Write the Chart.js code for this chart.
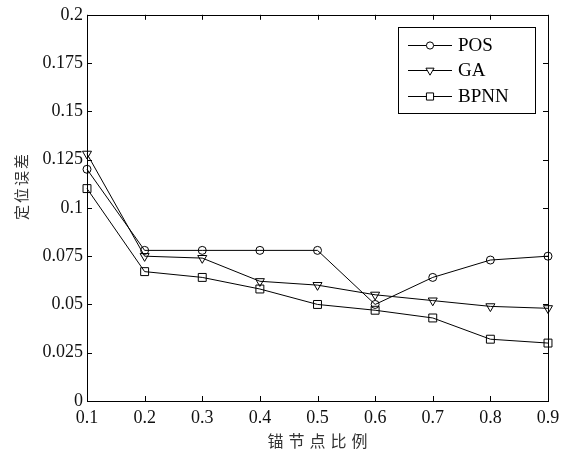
<!DOCTYPE html>
<html>
<head>
<meta charset="utf-8">
<script src="https://cdn.jsdelivr.net/npm/chart.js@4.4.0/dist/chart.umd.min.js"></script>
<style>
html,body{margin:0;padding:0;background:#fff;}
#wrap{width:574px;height:458px;}
</style>
</head>
<body>
<div id="wrap"><canvas id="c" width="574" height="458"></canvas></div>
<script>
const xValues = [0.1, 0.2, 0.3, 0.4, 0.5, 0.6, 0.7, 0.8, 0.9];
const xTickLabels = ["0.1","0.2","0.3","0.4","0.5","0.6","0.7","0.8","0.9"];
const yTickValues = [0, 0.025, 0.05, 0.075, 0.1, 0.125, 0.15, 0.175, 0.2];
const yTickLabels = ["0","0.025","0.05","0.075","0.1","0.125","0.15","0.175","0.2"];
const posValues  = [0.120, 0.078, 0.078, 0.078, 0.078, 0.050, 0.064, 0.073, 0.075];
const gaValues   = [0.128, 0.075, 0.074, 0.062, 0.060, 0.055, 0.052, 0.049, 0.048];
const bpnnValues = [0.110, 0.067, 0.064, 0.058, 0.050, 0.047, 0.043, 0.032, 0.030];
const seriesNames = ["POS", "GA", "BPNN"];
const xTitle = "锚节点比例";
const yTitle = "定位误差";

const serif = "'Liberation Serif', 'Times New Roman', serif";
const cjk = "'Noto Sans CJK SC', sans-serif";

function pts(vals){ return xValues.map((x,i)=>({x:x, y:vals[i]})); }

const styles = [
  {pointStyle:'circle', radius:4, rotation:0},
  {pointStyle:'triangle', radius:5.2, rotation:180},
  {pointStyle:'rect', radius:5.6, rotation:0}
];

const frameTicks = {
  id:'frameTicks',
  afterDraw(chart){
    const ctx = chart.ctx, a = chart.chartArea;
    const xs = chart.scales.x, ys = chart.scales.y;
    ctx.save();
    ctx.strokeStyle = '#000';
    ctx.lineWidth = 1;
    ctx.beginPath();
    xValues.forEach(v=>{
      const px = Math.round(xs.getPixelForValue(v))+0.5;
      ctx.moveTo(px, a.bottom); ctx.lineTo(px, a.bottom-5);
      ctx.moveTo(px, a.top); ctx.lineTo(px, a.top+5);
    });
    yTickValues.forEach(v=>{
      const py = Math.round(ys.getPixelForValue(v))+0.5;
      ctx.moveTo(a.left, py); ctx.lineTo(a.left+5, py);
      ctx.moveTo(a.right, py); ctx.lineTo(a.right-5, py);
    });
    ctx.stroke();
    ctx.strokeRect(Math.round(a.left)+0.5, Math.round(a.top)+0.5, Math.round(a.right-a.left), Math.round(a.bottom-a.top));
    // legend
    const bx = 398.5, by = 27.5, bw = 137, bh = 86;
    ctx.fillStyle = '#fff';
    ctx.fillRect(bx, by, bw, bh);
    ctx.strokeRect(bx, by, bw, bh);
    const rows = [45, 70, 96];
    ctx.font = "19px " + serif;
    ctx.textBaseline = 'middle';
    ctx.textAlign = 'left';
    seriesNames.forEach((n,i)=>{
      const y = rows[i]+0.5;
      ctx.strokeStyle = '#000';
      ctx.beginPath();
      ctx.moveTo(408, y); ctx.lineTo(452, y);
      ctx.stroke();
      ctx.fillStyle = '#fff';
      Chart.helpers.drawPoint(ctx, {pointStyle:styles[i].pointStyle, radius:styles[i].radius*0.9, rotation:styles[i].rotation, borderWidth:1}, 430, y);
      ctx.fillStyle = '#000';
      ctx.fillText(n, 458, rows[i]+1);
    });
    // axis titles
    ctx.fillStyle = '#333';
    ctx.textAlign = 'center';
    ctx.textBaseline = 'middle';
    ctx.font = "16px " + cjk;
    const xc = (a.left + a.right)/2;
    Array.from(xTitle).forEach((ch,i)=>{
      ctx.fillText(ch, xc + (i-2)*21, 441);
    });
    ctx.font = "15px " + cjk;
    ctx.translate(21, 187);
    ctx.rotate(-Math.PI/2);
    Array.from(yTitle).forEach((ch,i)=>{
      ctx.fillText(ch, (i-1.5)*17, 0);
    });
    ctx.restore();
  }
};

const mk = (label, vals, i) => ({
  label, data: pts(vals),
  borderColor:'#000', borderWidth:1,
  backgroundColor:'rgba(0,0,0,0)',
  pointStyle: styles[i].pointStyle,
  pointRadius: styles[i].radius,
  pointRotation: styles[i].rotation,
  pointBorderColor:'#000', pointBorderWidth:1,
  pointBackgroundColor:'rgba(0,0,0,0)',
  tension:0, fill:false, clip:false
});

new Chart(document.getElementById('c'), {
  type:'line',
  data:{ datasets:[ mk(seriesNames[0], posValues, 0), mk(seriesNames[1], gaValues, 1), mk(seriesNames[2], bpnnValues, 2) ] },
  options:{
    responsive:false, animation:false,
    layout:{ padding:{left:0, right:26, top:14, bottom:0} },
    plugins:{ legend:{display:false}, tooltip:{enabled:false} },
    scales:{
      x:{
        type:'linear', min:0.1, max:0.9,
        afterBuildTicks(s){ s.ticks = xValues.map(v=>({value:v})); },
        afterFit(s){ s.height = 57; },
        grid:{display:false, drawTicks:false}, border:{display:false},
        ticks:{ padding:6, color:'#111', font:{family:serif, size:18}, maxRotation:0, autoSkip:false,
          callback(v, idx){ return xTickLabels[idx]; } },
        title:{ display:false }
      },
      y:{
        type:'linear', min:0, max:0.2,
        afterBuildTicks(s){ s.ticks = yTickValues.map(v=>({value:v})); },
        afterFit(s){ s.width = 87; },
        grid:{display:false, drawTicks:false}, border:{display:false},
        ticks:{ padding:4, color:'#111', font:{family:serif, size:18}, autoSkip:false,
          callback(v, idx){ return yTickLabels[idx]; } },
        title:{ display:false }
      }
    }
  },
  plugins:[frameTicks]
});
</script>
</body>
</html>
